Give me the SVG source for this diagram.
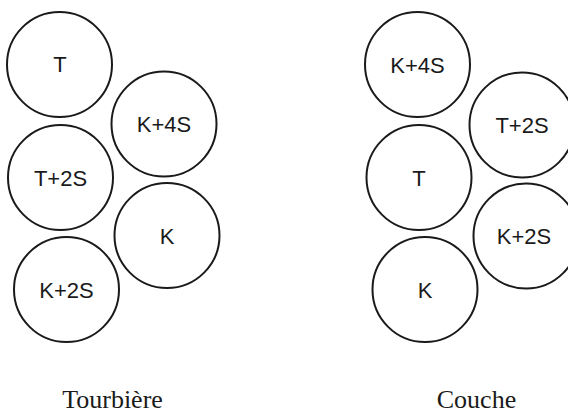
<svg xmlns="http://www.w3.org/2000/svg" width="568" height="414" viewBox="0 0 568 414">
<style>
.c{fill:none;stroke:#1a1a1a;stroke-width:2}
.l{font-family:"Liberation Sans",Arial,sans-serif;font-size:22px;fill:#1a1a1a;text-anchor:middle}
.t{font-family:"Liberation Serif","Times New Roman",serif;font-size:26px;fill:#1a1a1a;text-anchor:middle}
</style>
<rect width="568" height="414" fill="#fff"/>
<g id="left">
<g id="l-T"><circle class="c" cx="59.5" cy="64.5" r="52.5"/><text class="l" x="60" y="72">T</text></g>
<g id="l-K4S"><circle class="c" cx="164" cy="124" r="52.5"/><text class="l" x="164" y="132">K+4S</text></g>
<g id="l-T2S"><circle class="c" cx="60.5" cy="177.5" r="52.5"/><text class="l" x="60.5" y="185.5">T+2S</text></g>
<g id="l-K"><circle class="c" cx="167" cy="235.5" r="52.5"/><text class="l" x="167" y="243.5">K</text></g>
<g id="l-K2S"><circle class="c" cx="66.5" cy="289.5" r="52.5"/><text class="l" x="66.5" y="297.5">K+2S</text></g>
<text class="t" x="112.5" y="408">Tourbière</text>
</g>
<g id="right">
<g id="r-K4S"><circle class="c" cx="417.5" cy="64.5" r="52.5"/><text class="l" x="417.5" y="72.5">K+4S</text></g>
<g id="r-T2S"><circle class="c" cx="522" cy="125" r="52.5"/><text class="l" x="522" y="133">T+2S</text></g>
<g id="r-T"><circle class="c" cx="419" cy="177.5" r="52.5"/><text class="l" x="419" y="185.5">T</text></g>
<g id="r-K2S"><circle class="c" cx="526" cy="236" r="52.5"/><text class="l" x="524" y="244">K+2S</text></g>
<g id="r-K"><circle class="c" cx="425" cy="289.5" r="52.5"/><text class="l" x="425" y="297.5">K</text></g>
<text class="t" x="476.5" y="408">Couche</text>
</g>
<g id="connectors"/>
</svg>
